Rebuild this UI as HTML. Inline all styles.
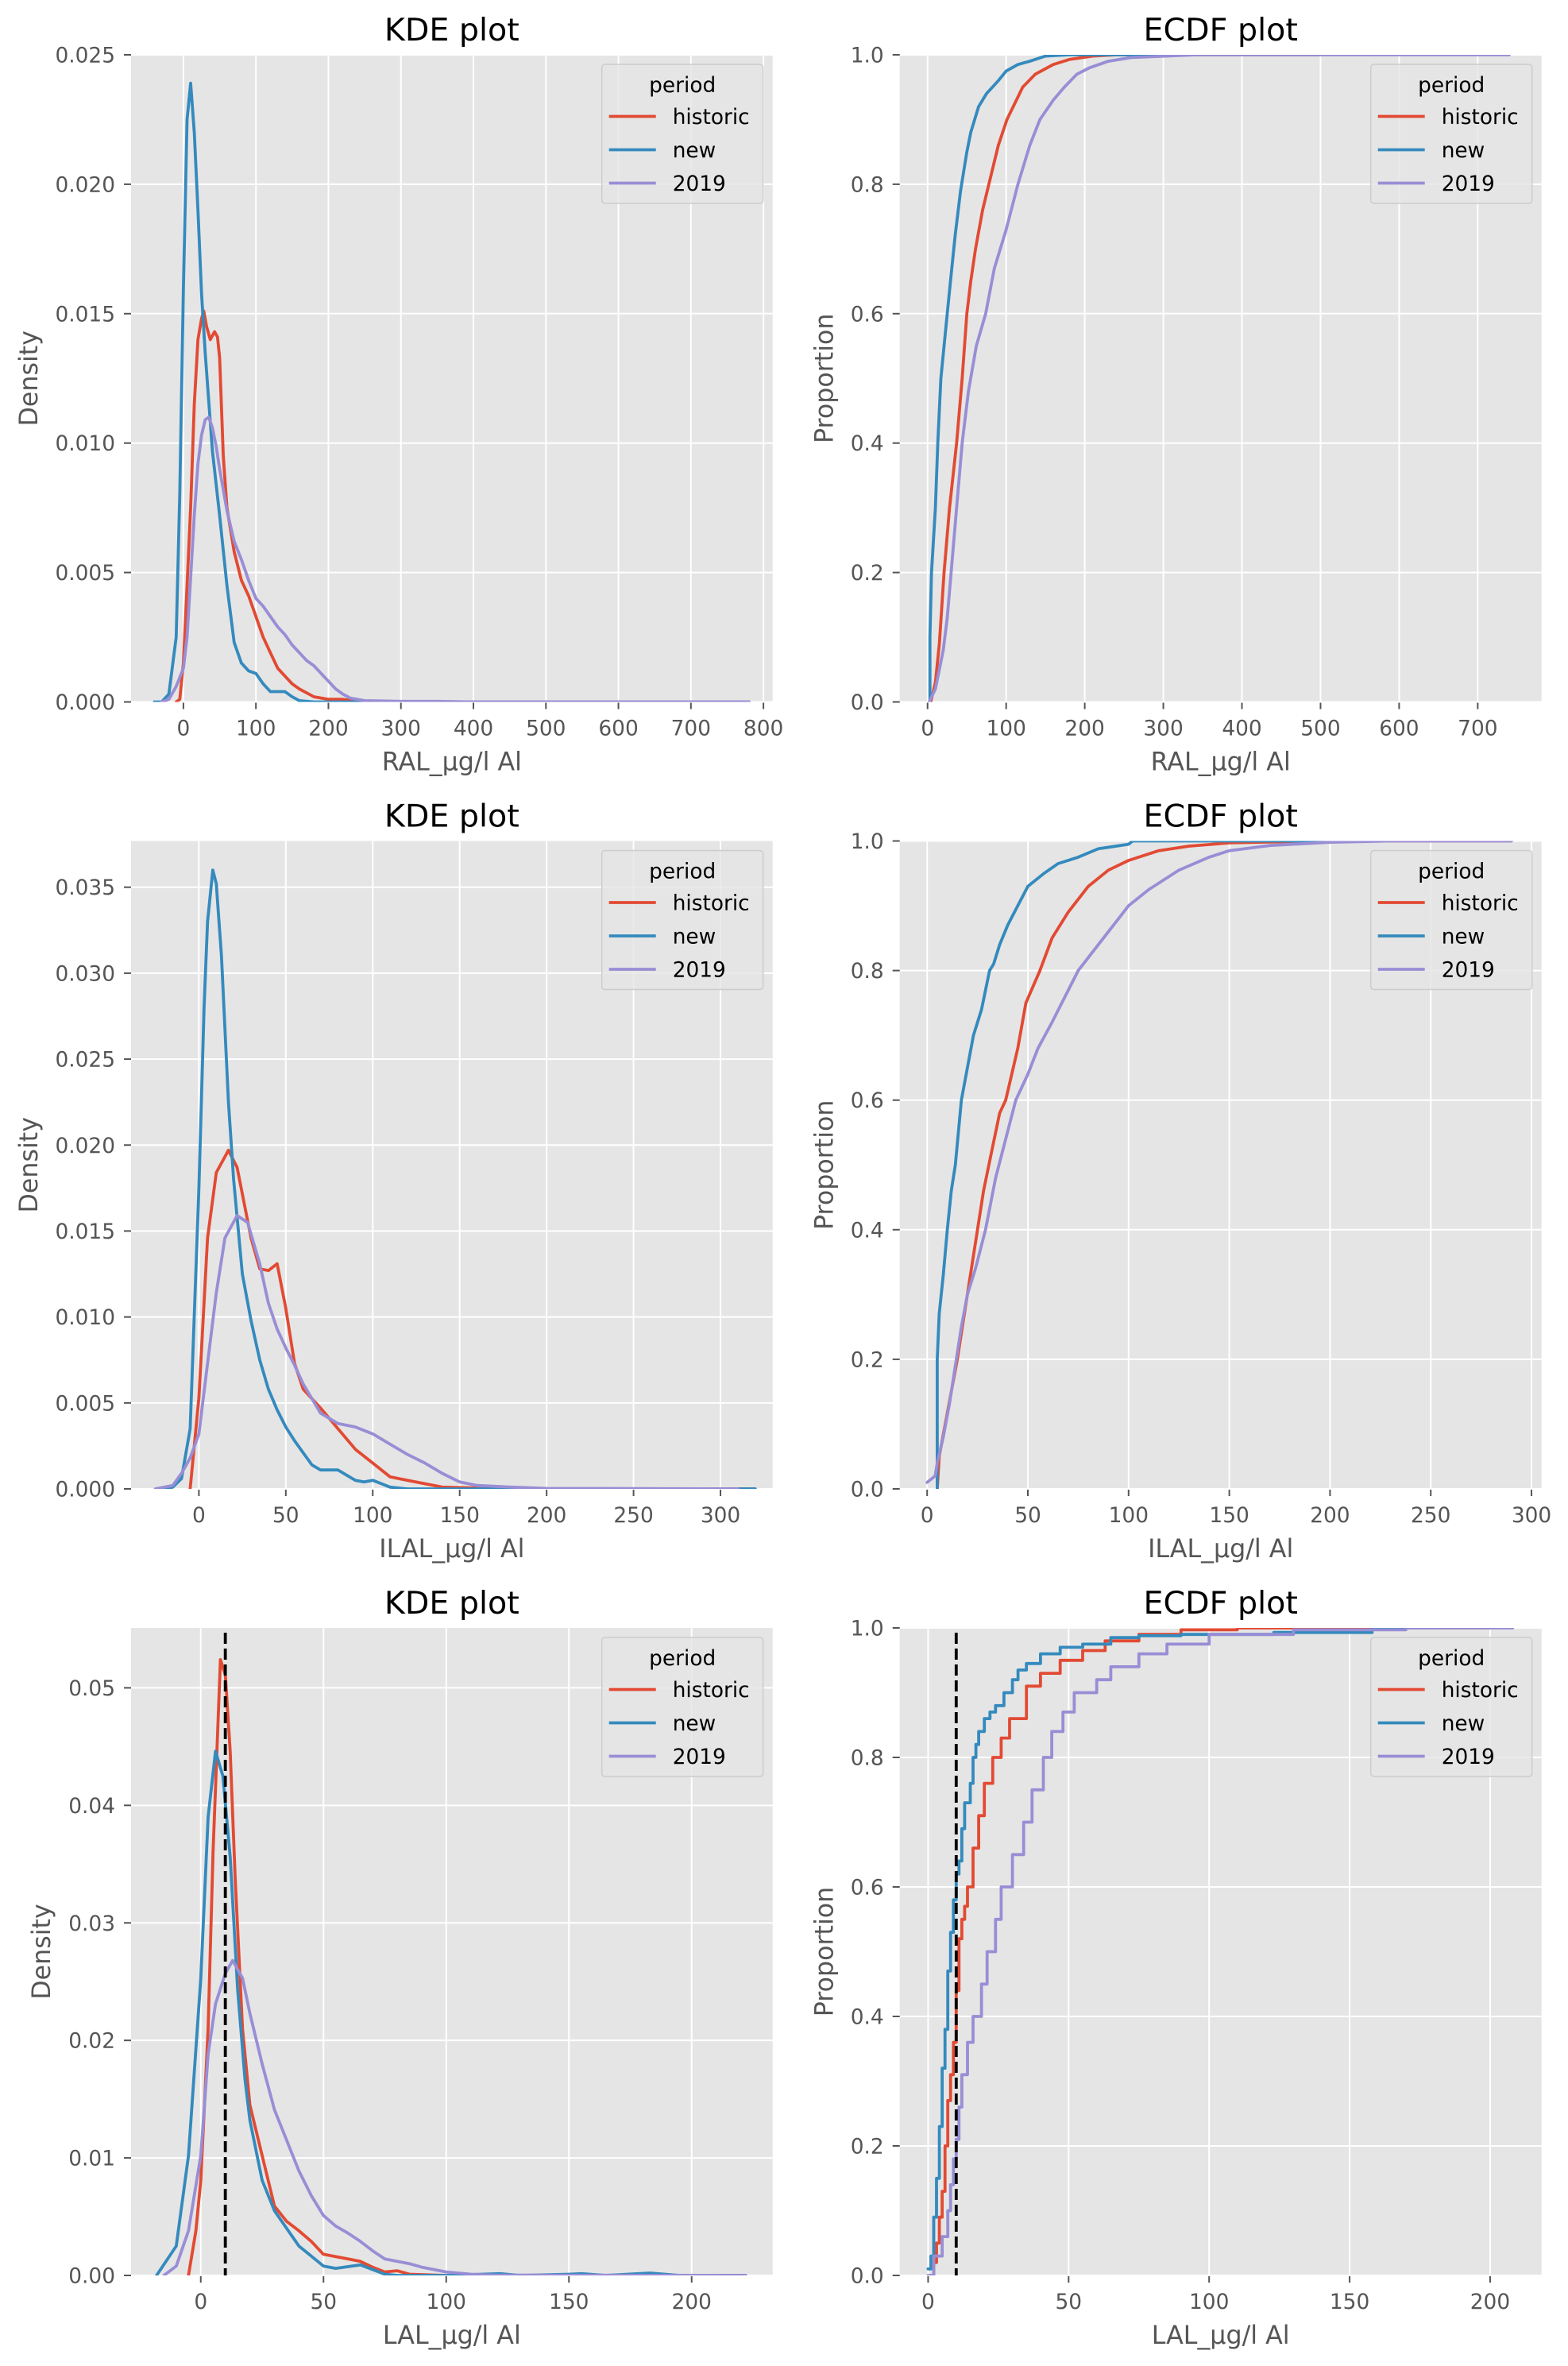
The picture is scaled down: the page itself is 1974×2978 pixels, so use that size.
<!DOCTYPE html>
<html><head><meta charset="utf-8"><title>KDE and ECDF plots</title>
<style>
html,body{margin:0;padding:0;background:#fff;}
svg{display:block;font-family:"DejaVu Sans","Liberation Sans",sans-serif;}
</style></head>
<body>
<svg id="fig" width="1974" height="2978" viewBox="0 0 1974 2978" xmlns="http://www.w3.org/2000/svg"></svg>
<script>
// ---------- DATA ----------
const seriesNames = ["historic", "new", "2019"];
// Panel 1: KDE of RAL
const kdeRalHistoricX = [-10,-5,0,5,10,15,20,25,28,32,37,43,47,50,55,60,70,80,90,100,110,120,130,140,150,160,180,200,220,250,780];
const kdeRalHistoricY = [0,0.0001,0.0015,0.0045,0.0075,0.0115,0.014,0.0148,0.0151,0.0145,0.014,0.0143,0.0141,0.0133,0.0095,0.0075,0.0058,0.0047,0.0041,0.0033,0.0025,0.0019,0.0013,0.001,0.0007,0.0005,0.0002,0.0001,0.0001,0,0];
const kdeRalNewX = [-40,-30,-20,-10,-5,0,5,10,15,20,25,30,40,50,60,70,80,90,100,110,120,130,140,150,160,180,780];
const kdeRalNewY = [0,0,0.0003,0.0025,0.008,0.016,0.0225,0.0239,0.022,0.019,0.0158,0.0135,0.0097,0.0072,0.0045,0.0023,0.0015,0.0012,0.0011,0.0007,0.0004,0.0004,0.0004,0.0002,0.00005,0,0];
const kdeRal2019X = [-30,-20,-10,0,5,10,15,20,25,30,35,40,45,50,60,70,80,90,100,110,120,130,140,150,160,170,180,190,200,210,220,230,250,300,350,400,780];
const kdeRal2019Y = [0,0.0001,0.0006,0.0013,0.0025,0.0048,0.0072,0.0092,0.0103,0.0109,0.011,0.0106,0.0099,0.009,0.0074,0.0062,0.0055,0.0047,0.004,0.0037,0.0033,0.0029,0.0026,0.0022,0.0019,0.0016,0.0014,0.0011,0.0008,0.0005,0.0003,0.00015,0.00005,0.00002,0.00002,0,0];
// Panel 2: ECDF of RAL
const ecdfRalHistoricX = [4,10,15,21,28,37,44,50,55,61,70,78,90,101,121,137,160,181,210,240,500];
const ecdfRalHistoricY = [0,0.03,0.09,0.2,0.3,0.4,0.5,0.6,0.65,0.7,0.76,0.8,0.86,0.9,0.95,0.97,0.985,0.993,0.998,1.0,1.0];
const ecdfRalNewX = [3,3,5,10,13,17,21,25,30,35,42,50,55,65,75,90,100,115,130,150,180,340];
const ecdfRalNewY = [0,0.1,0.2,0.3,0.4,0.5,0.55,0.6,0.66,0.72,0.79,0.85,0.88,0.92,0.94,0.96,0.975,0.985,0.99,0.998,1.0,1.0];
const ecdfRal2019X = [2,10,20,25,30,37,44,52,62,74,85,100,115,130,143,160,174,190,206,230,260,343,740];
const ecdfRal2019Y = [0,0.02,0.08,0.13,0.2,0.3,0.4,0.48,0.55,0.6,0.67,0.73,0.8,0.86,0.9,0.93,0.95,0.97,0.98,0.99,0.996,1.0,1.0];
// Panel 3: KDE of ILAL
const kdeIlalHistoricX = [-5,0,5,10,17,22,30,35,40,45,50,55,60,70,80,90,100,110,120,130,140,160,200,320];
const kdeIlalHistoricY = [0,0.0053,0.0146,0.0184,0.0197,0.0187,0.0146,0.0128,0.0127,0.0131,0.0105,0.0073,0.0058,0.0047,0.0035,0.0023,0.0015,0.0007,0.0005,0.0003,0.0001,0.00005,0,0];
const kdeIlalNewX = [-20,-15,-10,-5,0,3,5,8,10,13,17,20,25,30,35,40,45,50,55,60,65,70,75,80,85,90,95,100,105,110,120,320];
const kdeIlalNewY = [0,0.0001,0.0006,0.0035,0.0175,0.028,0.033,0.036,0.0352,0.031,0.0225,0.018,0.0125,0.0098,0.0075,0.0058,0.0046,0.0036,0.0028,0.0021,0.0014,0.0011,0.0011,0.0011,0.0008,0.0005,0.0004,0.0005,0.0003,0.0001,0,0];
const kdeIlal2019X = [-25,-15,-10,-5,0,5,10,15,22,28,35,40,45,50,55,60,70,80,90,100,110,120,130,140,150,160,180,200,310];
const kdeIlal2019Y = [0,0.0002,0.0009,0.0018,0.0032,0.0073,0.0114,0.0146,0.0159,0.0155,0.0131,0.0108,0.0093,0.0082,0.0072,0.0061,0.0044,0.0038,0.0036,0.0032,0.0026,0.002,0.0015,0.0009,0.0004,0.0002,0.0001,0.00003,0];
// Panel 4: ECDF of ILAL
const ecdfIlalHistoricX = [5,6,9,12,15,18,21,25,28,32,36,39,45,49,56,62,70,80,90,100,115,130,150,180,200,290];
const ecdfIlalHistoricY = [0,0.05,0.1,0.15,0.2,0.26,0.32,0.4,0.46,0.52,0.58,0.6,0.68,0.75,0.8,0.85,0.89,0.93,0.955,0.97,0.985,0.992,0.997,0.999,1.0,1.0];
const ecdfIlalNewX = [5,5,6,8,10,12,14,17,20,23,27,31,33,36,40,45,50,58,65,75,85,100,102,200];
const ecdfIlalNewY = [0,0.2,0.27,0.33,0.4,0.46,0.5,0.6,0.65,0.7,0.74,0.8,0.81,0.84,0.87,0.9,0.93,0.95,0.965,0.975,0.988,0.995,1.0,1.0];
const ecdfIlal2019X = [0,4,5,8,11,14,17,20,24,29,34,44,50,55,62,75,90,100,110,125,140,150,170,200,230,290];
const ecdfIlal2019Y = [0.01,0.02,0.04,0.08,0.13,0.19,0.25,0.3,0.34,0.4,0.48,0.6,0.64,0.68,0.72,0.8,0.86,0.9,0.925,0.955,0.975,0.985,0.993,0.998,1.0,1.0];
// Panel 5: KDE of LAL
const kdeLalHistoricX = [-5,-2,0,3,5,8,10,12,14,17,20,25,30,35,40,45,50,60,65,70,75,80,85,100,222];
const kdeLalHistoricY = [0,0.0038,0.0081,0.021,0.036,0.0524,0.0511,0.0446,0.0339,0.021,0.0145,0.0102,0.0059,0.0046,0.0038,0.0029,0.0018,0.0014,0.0012,0.0007,0.0003,0.0004,0.0001,0,0];
const kdeLalNewX = [-18,-10,-5,0,3,6,9,12,15,18,20,25,30,40,50,55,65,75,80,100,122,130,150,155,165,183,195,222];
const kdeLalNewY = [0,0.0025,0.0102,0.0253,0.039,0.0446,0.0425,0.0356,0.0244,0.0167,0.0132,0.0081,0.0055,0.0025,0.0008,0.0006,0.0009,0.0001,0,0,0.00015,0,0.0001,0.00015,0,0.0002,0,0];
const kdeLal2019X = [-15,-10,-5,0,3,6,10,13,17,20,25,30,35,40,45,50,55,60,65,70,75,80,85,90,100,110,120,222];
const kdeLal2019Y = [0,0.0008,0.0038,0.0102,0.0188,0.0231,0.0257,0.0268,0.0253,0.0223,0.018,0.0141,0.0115,0.0089,0.0068,0.0051,0.0042,0.0036,0.0029,0.0021,0.0014,0.0012,0.001,0.0007,0.0003,0.0001,0.00003,0];
// Panel 6: ECDF of LAL
const ecdfLalHistoricX = [1,2,3,4,5,6,7,8,9,10,11,12,13,14,16,18,20,23,26,29,35,40,47,55,63,75,90,110,200];
const ecdfLalHistoricY = [0,0.02,0.05,0.09,0.13,0.2,0.27,0.31,0.36,0.44,0.52,0.55,0.57,0.6,0.66,0.71,0.76,0.8,0.83,0.86,0.91,0.93,0.95,0.965,0.98,0.99,0.997,1.0,1.0];
const ecdfLalNewX = [0,1,2,3,4,5,6,7,8,9,10,11,12,13,15,16,17,18,20,22,24,27,30,32,35,40,47,55,65,75,90,120,123,157,158,182];
const ecdfLalNewY = [0.01,0.03,0.09,0.15,0.23,0.32,0.38,0.47,0.53,0.58,0.62,0.64,0.69,0.73,0.76,0.8,0.82,0.84,0.86,0.87,0.88,0.9,0.92,0.935,0.945,0.96,0.97,0.975,0.985,0.988,0.99,0.99,0.993,0.993,1.0,1.0];
const ecdfLal2019X = [0,2,5,7,8,9,10,11,12,14,16,19,21,24,26,30,34,37,41,44,48,52,60,65,75,85,100,130,170,208];
const ecdfLal2019Y = [0,0.03,0.06,0.1,0.14,0.18,0.21,0.26,0.31,0.36,0.4,0.45,0.5,0.55,0.6,0.65,0.7,0.75,0.8,0.84,0.87,0.9,0.92,0.94,0.96,0.975,0.99,0.997,1.0,1.0];
// Reference line value (row 3)
const thresholdValue = [10];
// Tick labels
const xTicksRal = [0,100,200,300,400,500,600,700,800];
const xTicksRalEcdf = [0,100,200,300,400,500,600,700];
const xTicksIlal = [0,50,100,150,200,250,300];
const xTicksLal = [0,50,100,150,200];
const yTicksKdeRal = [0,0.005,0.01,0.015,0.02,0.025];
const yTicksKdeIlal = [0,0.005,0.01,0.015,0.02,0.025,0.03,0.035];
const yTicksKdeLal = [0,0.01,0.02,0.03,0.04,0.05];
const yTicksEcdf = [0,0.2,0.4,0.6,0.8,1.0];

// ---------- RENDER ----------
const NS = "http://www.w3.org/2000/svg";
const svg = document.getElementById("fig");
const COLORS = ["#E24A33", "#348ABD", "#988ED5"];
function mk(tag, attrs, parent) {
  const e = document.createElementNS(NS, tag);
  for (const k in attrs) e.setAttribute(k, attrs[k]);
  (parent || svg).appendChild(e);
  return e;
}
const KL = 165, KR = 972.7, EL = 1132.7, ER = 1940.7;
const panels = [
  {id:"kde-ral", kind:"kde", L:KL, R:KR, T:69, B:883.5, xmin:-72.2, xmax:812.7, ymin:0, ymax:0.025, xt:xTicksRal, yt:yTicksKdeRal, yd:3,
   series:[[kdeRalHistoricX,kdeRalHistoricY],[kdeRalNewX,kdeRalNewY],[kdeRal2019X,kdeRal2019Y]], title:"KDE plot", xl:"RAL_µg/l Al", yl:"Density", ylx:37},
  {id:"ecdf-ral", kind:"ecdf", L:EL, R:ER, T:69, B:883.5, xmin:-35.4, xmax:781.2, ymin:0, ymax:1, xt:xTicksRalEcdf, yt:yTicksEcdf, yd:1,
   series:[[ecdfRalHistoricX,ecdfRalHistoricY],[ecdfRalNewX,ecdfRalNewY],[ecdfRal2019X,ecdfRal2019Y]], title:"ECDF plot", xl:"RAL_µg/l Al", yl:"Proportion", ylx:1038.5},
  {id:"kde-ilal", kind:"kde", L:KL, R:KR, T:1058.5, B:1874, xmin:-39.0, xmax:330.0, ymin:0, ymax:0.03769, xt:xTicksIlal, yt:yTicksKdeIlal, yd:3,
   series:[[kdeIlalHistoricX,kdeIlalHistoricY],[kdeIlalNewX,kdeIlalNewY],[kdeIlal2019X,kdeIlal2019Y]], title:"KDE plot", xl:"ILAL_µg/l Al", yl:"Density", ylx:37},
  {id:"ecdf-ilal", kind:"ecdf", L:EL, R:ER, T:1058.5, B:1874, xmin:-13.6, xmax:305.0, ymin:0, ymax:1, xt:xTicksIlal, yt:yTicksEcdf, yd:1,
   series:[[ecdfIlalHistoricX,ecdfIlalHistoricY],[ecdfIlalNewX,ecdfIlalNewY],[ecdfIlal2019X,ecdfIlal2019Y]], title:"ECDF plot", xl:"ILAL_µg/l Al", yl:"Proportion", ylx:1038.5},
  {id:"kde-lal", kind:"kde", L:KL, R:KR, T:2049, B:2864, xmin:-28.4, xmax:233.0, ymin:0, ymax:0.0551, xt:xTicksLal, yt:yTicksKdeLal, yd:2,
   series:[[kdeLalHistoricX,kdeLalHistoricY],[kdeLalNewX,kdeLalNewY],[kdeLal2019X,kdeLal2019Y]], title:"KDE plot", xl:"LAL_µg/l Al", yl:"Density", ylx:53, vline:true},
  {id:"ecdf-lal", kind:"ecdf", L:EL, R:ER, T:2049, B:2864, xmin:-10.1, xmax:218.3, ymin:0, ymax:1, xt:xTicksLal, yt:yTicksEcdf, yd:1,
   series:[[ecdfLalHistoricX,ecdfLalHistoricY],[ecdfLalNewX,ecdfLalNewY],[ecdfLal2019X,ecdfLal2019Y]], title:"ECDF plot", xl:"LAL_µg/l Al", yl:"Proportion", ylx:1038.5, vline:true, steps:true}
];

panels.forEach((p, pi) => {
  const g = mk("g", {});
  
  
  const sx = v => p.L + (v - p.xmin) / (p.xmax - p.xmin) * (p.R - p.L);
  const sy = v => p.B - (v - p.ymin) / (p.ymax - p.ymin) * (p.B - p.T);
  const bg = mk("rect", {x:p.L, y:p.T, width:p.R-p.L, height:p.B-p.T, fill:"#E5E5E5"}, g);
  
  
  const clipId = "clip" + pi;
  const cp = mk("clipPath", {id:clipId}, g);
  mk("rect", {x:p.L, y:p.T, width:p.R-p.L, height:p.B-p.T}, cp);
  p.xt.forEach(t => {
    const x = sx(t);
    const gl = mk("line", {x1:x, x2:x, y1:p.T, y2:p.B, stroke:"#fff", "stroke-width":2}, g);
    
    
    mk("line", {x1:x, x2:x, y1:p.B, y2:p.B+9, stroke:"#555", "stroke-width":2}, g);
    const tx = mk("text", {x:x, y:p.B+42, "text-anchor":"middle", "font-size":26.4, fill:"#555"}, g);
    tx.textContent = String(t);
    
    
  });
  p.yt.forEach(t => {
    const y = sy(t);
    const gl = mk("line", {x1:p.L, x2:p.R, y1:y, y2:y, stroke:"#fff", "stroke-width":2}, g);
    
    
    mk("line", {x1:p.L-9, x2:p.L, y1:y, y2:y, stroke:"#555", "stroke-width":2}, g);
    const ty = mk("text", {x:p.L-20, y:y+9.5, "text-anchor":"end", "font-size":26.4, fill:"#555"}, g);
    ty.textContent = t.toFixed(p.yd);
    
    
  });
  const sg = mk("g", {"clip-path":"url(#"+clipId+")"}, g);
  p.series.forEach((s, si) => {
    const xs = s[0], ys = s[1];
    let pts = [];
    for (let i = 0; i < xs.length; i++) {
      if (p.steps && i > 0) pts.push(sx(xs[i]).toFixed(1) + "," + sy(ys[i-1]).toFixed(1));
      pts.push(sx(xs[i]).toFixed(1) + "," + sy(ys[i]).toFixed(1));
    }
    const pl = mk("polyline", {points:pts.join(" "), fill:"none", stroke:COLORS[si], "stroke-width":3.8, "stroke-linejoin":"round", "stroke-linecap":"round"}, sg);
    
    
  });
  if (p.vline) {
    const x = sx(thresholdValue[0]);
    const vl = mk("line", {x1:x, x2:x, y1:p.T+6, y2:p.B, stroke:"#000", "stroke-width":3.8, "stroke-dasharray":"14,6"}, sg);
    
    
  }
  const ti = mk("text", {x:(p.L+p.R)/2, y:p.T-18, "text-anchor":"middle", "font-size":39.6, fill:"#000"}, g);
  ti.textContent = p.title;
  
  
  const xl = mk("text", {x:(p.L+p.R)/2, y:p.B+86, "text-anchor":"middle", "font-size":31.7, fill:"#555"}, g);
  xl.textContent = p.xl;
  
  
  const cy = (p.T + p.B) / 2;
  const yl = mk("text", {x:p.ylx, y:cy, "text-anchor":"middle", "dominant-baseline":"central", "font-size":31.7, fill:"#555", transform:"rotate(-90 "+p.ylx+" "+cy+")"}, g);
  yl.textContent = p.yl;
  
  
  const lw = 203, lx = p.R - 12 - lw, ly = p.T + 12;
  const lg = mk("g", {}, g);
  
  
  mk("rect", {x:lx, y:ly, width:lw, height:175, rx:4, fill:"#E5E5E5", "fill-opacity":0.8, stroke:"#cccccc", "stroke-width":1.5}, lg);
  const lt = mk("text", {x:lx+lw/2, y:ly+35, "text-anchor":"middle", "font-size":26.4, fill:"#000"}, lg);
  lt.textContent = "period";
  
  
  seriesNames.forEach((n, i) => {
    const yy = ly + 65.5 + i * 42;
    const ent = mk("g", {}, lg);
    
    
    mk("line", {x1:lx+9, x2:lx+68, y1:yy, y2:yy, stroke:COLORS[i], "stroke-width":3.8}, ent);
    const et = mk("text", {x:lx+89, y:yy+9.5, "font-size":26.4, fill:"#000"}, ent);
    et.textContent = n;
  });
});
</script>
</body></html>
